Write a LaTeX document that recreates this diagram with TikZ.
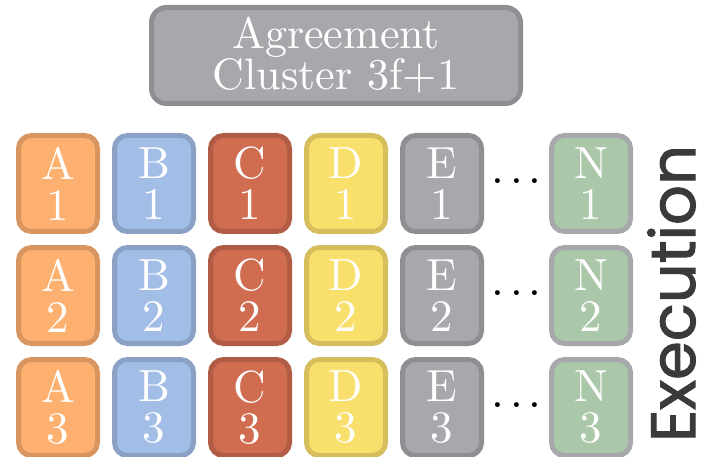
\documentclass[tikz,border=0pt]{standalone}
\usepackage{fontspec}
\usetikzlibrary{calc}
\newfontfamily\tilefont{lmroman10-regular}[Extension=.otf]
\newfontfamily\labelfont{Poppins}[FakeBold=1.6]
\definecolor{aFill}{HTML}{FDB06F}\definecolor{aLine}{HTML}{D89560}
\definecolor{bFill}{HTML}{A2BDE6}\definecolor{bLine}{HTML}{8AA1C5}
\definecolor{cFill}{HTML}{D06C4F}\definecolor{cLine}{HTML}{B15C45}
\definecolor{dFill}{HTML}{F9DF6B}\definecolor{dLine}{HTML}{D6BE5C}
\definecolor{eFill}{HTML}{A6A8AC}\definecolor{eLine}{HTML}{8D8F93}
\definecolor{nFill}{HTML}{AAC8A9}\definecolor{nLine}{HTML}{A6A8AC}
\definecolor{labelGray}{HTML}{3A3A3A}
\begin{document}
\begin{tikzpicture}[x=1pt,y=-1pt,
  tile/.style={draw=#1Line,fill=#1Fill,line width=5pt,rounded corners=13pt,
    minimum width=79pt,minimum height=96pt,inner sep=0pt,text=white,
    align=center,font=\tilefont\fontsize{45}{41}\selectfont},
  cluster/.style={draw=eLine,fill=eFill,line width=5pt,rounded corners=15pt,
    minimum width=369pt,minimum height=96pt,inner sep=0pt,text=white,
    align=center,font=\tilefont\fontsize{44}{38}\selectfont},
  ellip/.style={inner sep=0pt,anchor=base,text=black,
    font=\tilefont\fontsize{46}{46}\selectfont}]
\useasboundingbox (0,0) rectangle (704,457);
% agreement cluster on top
\node[cluster] (agree) at (336,55.5) {Agreement\\Cluster 3f+1};
% execution replicas: one row per index
\foreach \row/\y in {1/183.5,2/295.5,3/407.5}{
  \node[tile=a] (A\row) at (58,\y)  {A\\\row};
  \node[tile=b] (B\row) at (154,\y) {B\\\row};
  \node[tile=c] (C\row) at (250,\y) {C\\\row};
  \node[tile=d] (D\row) at (346,\y) {D\\\row};
  \node[tile=e] (E\row) at (442,\y) {E\\\row};
  \node[tile=n] (N\row) at (591,\y) {N\\\row};
  \node[ellip] (dots\row) at ($(E\row.east)!0.5!(N\row.west)$)
    {.\kern0.13em.\kern0.13em.};
}
% vertical side label (no descenders, so its depth is dropped)
\node[rotate=90,anchor=base,inner sep=0pt,text=labelGray] (exec) at (695,293.5)
  {\raisebox{0pt}[\height][0pt]{\resizebox{297pt}{!}{\labelfont\fontsize{56}{60}\selectfont Execution}}};
\end{tikzpicture}
\end{document}
